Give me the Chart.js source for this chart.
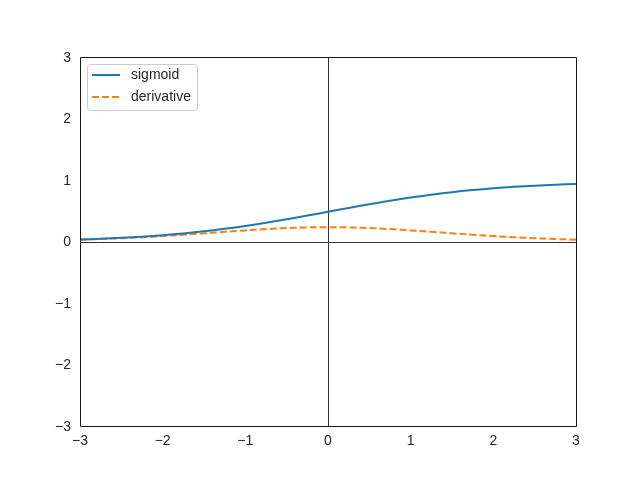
<!DOCTYPE html>
<html>
<head>
<meta charset="utf-8">
<script src="https://cdn.jsdelivr.net/npm/chart.js@4/dist/chart.umd.min.js"></script>
<style>
  html, body { margin: 0; padding: 0; background: #fff; }
  #wrap { width: 640px; height: 480px; }
</style>
</head>
<body>
<div id="wrap"><canvas id="chart" width="640" height="480"></canvas></div>
<script>
// x positions, sampled every 0.25
const xs = [-3, -2.75, -2.5, -2.25, -2, -1.75, -1.5, -1.25, -1, -0.75, -0.5, -0.25, 0,
            0.25, 0.5, 0.75, 1, 1.25, 1.5, 1.75, 2, 2.25, 2.5, 2.75, 3];

// blue curve
const sigmoidVals = [0.047, 0.060, 0.076, 0.095, 0.119, 0.148, 0.182, 0.223, 0.269, 0.321, 0.378, 0.438, 0.5,
                     0.562, 0.622, 0.679, 0.731, 0.777, 0.818, 0.852, 0.881, 0.905, 0.924, 0.940, 0.953];

// orange dashed curve
const derivVals = [0.045, 0.057, 0.070, 0.086, 0.105, 0.126, 0.149, 0.173, 0.197, 0.218, 0.235, 0.246, 0.25,
                   0.246, 0.235, 0.218, 0.197, 0.173, 0.149, 0.126, 0.105, 0.086, 0.070, 0.057, 0.045];

const xTicks = [-3, -2, -1, 0, 1, 2, 3];
const yTicks = [-3, -2, -1, 0, 1, 2, 3];

const FONT = "'Liberation Sans', Arial, sans-serif";
const fmt = v => v < 0 ? '\u2212' + Math.abs(v) : String(v);

const toPts = ys => xs.map((x, i) => ({ x: x, y: ys[i] }));

// frame around the plot + legend box like matplotlib
const framePlugin = {
  id: 'frame',
  afterDraw(chart) {
    const { ctx, chartArea: a } = chart;
    ctx.save();
    ctx.strokeStyle = '#1a1a1a';
    ctx.lineWidth = 1;
    ctx.beginPath();
    ctx.rect(a.left + 0.5, a.top - 0.5, a.right - a.left, a.bottom - a.top);
    ctx.stroke();

    // legend
    const bx = a.left + 7, by = a.top + 6, bw = 110, bh = 46;
    ctx.beginPath();
    ctx.roundRect(bx + 0.5, by + 0.5, bw, bh, 3);
    ctx.fillStyle = 'rgba(255,255,255,0.8)';
    ctx.fill();
    ctx.strokeStyle = '#cccccc';
    ctx.stroke();

    ctx.font = '14px ' + FONT;
    ctx.textBaseline = 'middle';
    chart.data.datasets.forEach((ds, i) => {
      const y = by + 11 + i * 22;
      ctx.beginPath();
      ctx.strokeStyle = ds.borderColor;
      ctx.lineWidth = ds.borderWidth;
      ctx.setLineDash(ds.borderDash || []);
      ctx.moveTo(bx + 5, y);
      ctx.lineTo(bx + 33, y);
      ctx.stroke();
      ctx.setLineDash([]);
      ctx.fillStyle = '#262626';
      ctx.fillText(ds.label, bx + 44, y);
    });
    ctx.restore();
  }
};

const zeroLine = c => (c.tick && c.tick.value === 0) ? '#333333' : 'rgba(0,0,0,0)';

new Chart(document.getElementById('chart'), {
  type: 'line',
  data: {
    datasets: [
      {
        label: 'sigmoid',
        data: toPts(sigmoidVals),
        borderColor: '#1f77b4',
        borderWidth: 2,
        pointRadius: 0,
        tension: 0.4,
        fill: false
      },
      {
        label: 'derivative',
        data: toPts(derivVals),
        borderColor: '#ff7f0e',
        borderWidth: 2,
        borderDash: [7, 3],
        pointRadius: 0,
        tension: 0.4,
        fill: false
      }
    ]
  },
  options: {
    responsive: false,
    animation: false,
    layout: { padding: { left: 0, right: 64, top: 58, bottom: 0 } },
    plugins: {
      legend: { display: false },
      tooltip: { enabled: false }
    },
    scales: {
      x: {
        type: 'linear',
        min: -3, max: 3,
        afterBuildTicks: s => { s.ticks = xTicks.map(v => ({ value: v })); },
        afterFit: s => { s.height = 53; },
        grid: { color: zeroLine, lineWidth: 1, drawTicks: false },
        border: { display: false },
        ticks: {
          padding: 6,
          color: '#262626',
          font: { family: FONT, size: 14 },
          callback: v => fmt(v),
          maxRotation: 0
        }
      },
      y: {
        type: 'linear',
        min: -3, max: 3,
        afterBuildTicks: s => { s.ticks = yTicks.map(v => ({ value: v })); },
        afterFit: s => { s.width = 80; },
        grid: { color: zeroLine, lineWidth: 1, drawTicks: false },
        border: { display: false },
        ticks: {
          padding: 9,
          color: '#262626',
          font: { family: FONT, size: 14 },
          callback: v => fmt(v)
        }
      }
    }
  },
  plugins: [framePlugin]
});
</script>
</body>
</html>
